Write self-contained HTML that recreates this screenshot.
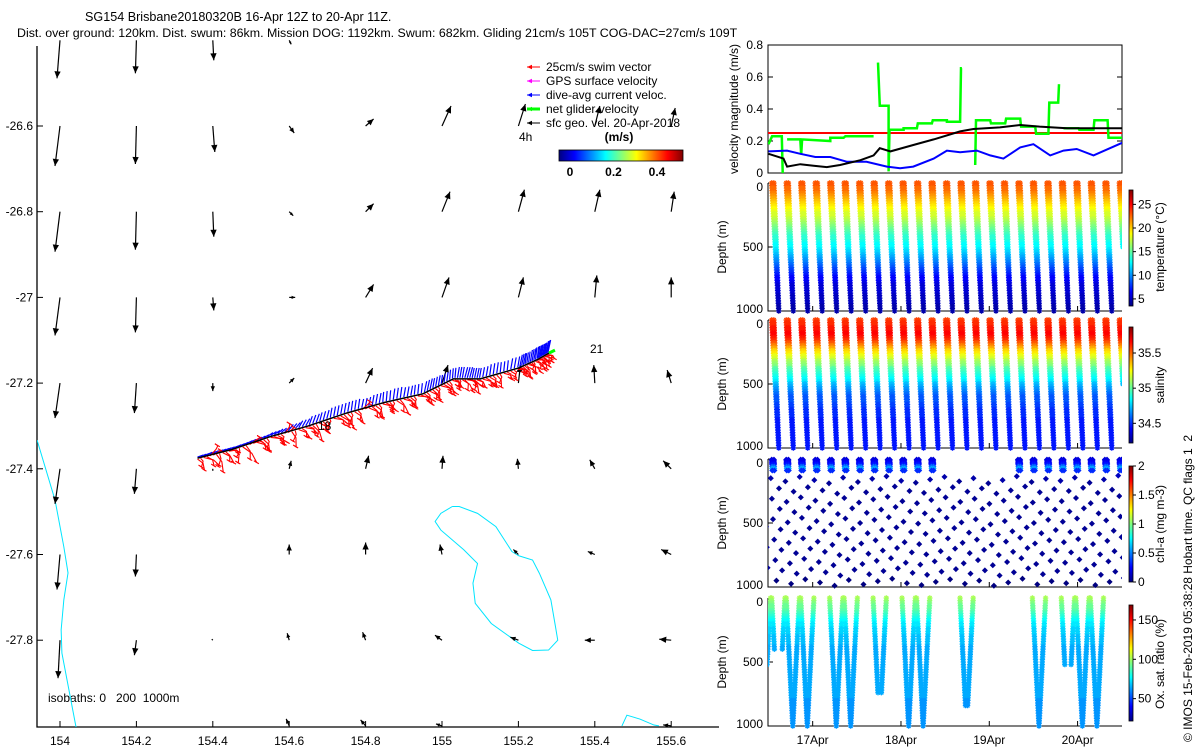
<!DOCTYPE html>
<html><head><meta charset="utf-8"><style>
html,body{margin:0;padding:0;background:#fff;}
svg{display:block;font-family:"Liberation Sans",sans-serif;}
text{fill:#000;}
</style></head><body>
<svg id="c" width="1200" height="750" xmlns="http://www.w3.org/2000/svg" font-size="12">
<defs>
<linearGradient id="jetH" x1="0" y1="0" x2="1" y2="0">
<stop offset="0" stop-color="#000080"/><stop offset="0.125" stop-color="#0000ff"/><stop offset="0.375" stop-color="#00ffff"/><stop offset="0.625" stop-color="#ffff00"/><stop offset="0.875" stop-color="#ff0000"/><stop offset="1" stop-color="#800000"/>
</linearGradient>
<linearGradient id="jetV" x1="0" y1="1" x2="0" y2="0">
<stop offset="0" stop-color="#000080"/><stop offset="0.125" stop-color="#0000ff"/><stop offset="0.375" stop-color="#00ffff"/><stop offset="0.625" stop-color="#ffff00"/><stop offset="0.875" stop-color="#ff0000"/><stop offset="1" stop-color="#800000"/>
</linearGradient>
<clipPath id="clipMap"><rect x="37" y="40" width="682" height="687"/></clipPath>
<clipPath id="clipVel"><rect x="768" y="45" width="354" height="128"/></clipPath>
<clipPath id="clipT"><rect x="768" y="178" width="354" height="136"/></clipPath>
<clipPath id="clipS"><rect x="768" y="315" width="354" height="137"/></clipPath>
<clipPath id="clipC"><rect x="768" y="454" width="354" height="137"/></clipPath>
<clipPath id="clipO"><rect x="768" y="593" width="354" height="137"/></clipPath>
</defs>
<text x="85" y="21" font-size="12.6">SG154 Brisbane20180320B 16-Apr 12Z to 20-Apr 11Z.</text>
<text x="17" y="37" font-size="12.4">Dist. over ground: 120km. Dist. swum: 86km. Mission DOG: 1192km. Swum: 682km. Gliding 21cm/s 105T COG-DAC=27cm/s 109T</text>
<text x="48" y="702" xml:space="preserve">isobaths: 0   200  1000m</text>
<text x="519" y="141">4h</text>
<text x="590" y="353">21</text>
<text x="619" y="141" text-anchor="middle" font-weight="bold">(m/s)</text>
<text transform="translate(738,109) rotate(-90)" text-anchor="middle">velocity magnitude (m/s)</text>
<text transform="translate(1164,247) rotate(-90)" text-anchor="middle">temperature (°C)</text>
<text transform="translate(1164,385) rotate(-90)" text-anchor="middle">salinity</text>
<text transform="translate(1164,524) rotate(-90)" text-anchor="middle">chl-a (mg m-3)</text>
<text transform="translate(1164,664) rotate(-90)" text-anchor="middle">Ox. sat. ratio (%)</text>
<text transform="translate(1192,742) rotate(-90)" xml:space="preserve">© IMOS 15-Feb-2019 05:38:28 Hobart time. QC flags 1  2</text>
</svg>
<script>
// ---------- data ----------
const lonTicks=[154,154.2,154.4,154.6,154.8,155,155.2,155.4,155.6];
const latTicks=[-26.6,-26.8,-27,-27.2,-27.4,-27.6,-27.8];
const gridLats=[-26.4,-26.6,-26.8,-27,-27.2,-27.4,-27.6,-27.8,-28.0];
const gridLons=[154,154.2,154.4,154.6,154.8,155,155.2,155.4,155.6];
const geoU=[[-3,-1,1,2,0,0,0,0,0],[-5,-1,2,5,8,9,7,5,4],[-5,-1,1,4,8,8,6,5,3],[-5,-1,1,6,8,7,5,2,0],[-5,-2,0,5,7,6,2,-1,-4],[-5,-2,0,2,3,1,-1,-5,-8],[-3,-1,0,0,0,-2,-5,-7,-10],[-2,-2,-1,-2,-3,-7,-8,-10,-12],[0,0,0,-3,-5,-6,0,0,-8]];
const geoV=[[-38,-33,-20,-4,0,0,0,0,0],[-40,-38,-26,-7,7,20,22,20,18],[-40,-38,-25,-4,8,20,22,22,20],[-38,-35,-13,0,13,20,20,22,20],[-35,-30,-8,5,15,18,18,18,13],[-35,-25,-2,8,13,13,10,9,8],[-35,-22,0,10,12,10,5,3,5],[-38,-15,1,7,8,5,3,0,1],[0,0,0,7,6,2,0,0,1]];
const trackLon=[154.36,154.45,154.55,154.65,154.75,154.85,154.95,155.03,155.1,155.2,155.25,155.28];
const trackLat=[-27.375,-27.355,-27.325,-27.30,-27.27,-27.245,-27.225,-27.19,-27.19,-27.165,-27.145,-27.13];
const swimBrg=[150,120,40,160,135,100,170,140,60,125,155,110,145,30,165,130,120,150,140,175,115,135,160,145,50,130,150,120,165,140,125,155,110,145,135,160,120,150,130,170,140,115,155,135,125,145,160,130,150,120,140,155,125,165,135,110,150,145,130,120];
const swimLen=[14,18,12,20,16,10,15,22,12,16,14,18,12,10,17,15,13,19,14,12,16,20,13,15,11,18,14,16,12,19,15,13,17,14,16,12,18,15,13,11,17,14,16,12,15,13,14,12,11,10,15,13,16,12,14,11,13,12,10,9];
const dacBrg=[70,65,70,68,66,64,60,55,50,40,30,20,15,10,10,8,12,10,5,8,10,6,12,10,8,5,10,15,12,10,8,6,10,12,8,10,6,8,10,12];
const dacLen=[6,6,7,6,6,7,6,7,7,8,8,9,9,10,10,10,9,10,10,11,10,10,11,10,9,10,11,11,10,10,11,10,11,12,11,12,12,12,12,13];
const iso1Lon=[153.94,153.987,154.010,154.021,154.010,154.003,154.005,154.042];
const iso1Lat=[-27.333,-27.473,-27.582,-27.643,-27.706,-27.776,-27.830,-28.003];
const iso2Lon=[155.027,155.045,155.093,155.141,155.183,155.201,155.237,155.255,155.285,155.297,155.303,155.279,155.237,155.201,155.129,155.087,155.081,155.093,155.057,154.997,154.982,154.997,155.027];
const iso2Lat=[-27.488,-27.488,-27.504,-27.535,-27.593,-27.603,-27.613,-27.644,-27.706,-27.768,-27.800,-27.823,-27.824,-27.807,-27.761,-27.714,-27.667,-27.621,-27.589,-27.543,-27.523,-27.504,-27.488];
const iso3Lon=[155.471,155.484,155.518,155.555,155.568];
const iso3Lat=[-28.0,-27.975,-27.984,-27.998,-28.0];
// velocity panel
const velTicks=[0,0.2,0.4,0.6,0.8];
const dayTicks=[17,18,19,20];
const dayLabels=['17Apr','18Apr','19Apr','20Apr'];
const dacT=[16.50,16.71,16.86,17.03,17.20,17.39,17.61,17.84,17.99,18.14,18.37,18.52,18.67,18.86,19.01,19.16,19.35,19.50,19.69,19.84,19.99,20.18,20.51];
const dacV=[0.135,0.14,0.12,0.10,0.10,0.07,0.07,0.04,0.03,0.04,0.09,0.14,0.13,0.14,0.11,0.09,0.16,0.18,0.11,0.14,0.15,0.11,0.19];
const cogT=[16.50,16.67,16.71,16.86,17.01,17.16,17.31,17.54,17.69,17.76,17.88,18.14,18.37,18.67,18.82,19.12,19.35,19.57,19.88,20.51];
const cogV=[0.12,0.09,0.04,0.055,0.045,0.037,0.05,0.08,0.11,0.155,0.135,0.175,0.21,0.26,0.275,0.285,0.30,0.29,0.28,0.28];
const netT=[16.50,16.54,16.65,16.66,null,16.71,16.86,16.87,16.88,17.20,17.20,17.35,17.37,17.69,null,17.74,17.76,17.86,17.86,17.87,18.03,18.03,18.18,18.19,18.35,18.36,18.52,18.52,18.67,18.68,18.69,null,18.84,18.85,19.01,19.02,19.18,19.19,19.35,19.36,19.52,19.53,19.67,19.68,19.78,19.79,null,19.84,20.01,20.02,20.18,20.19,20.34,20.35,20.51];
const netV=[0.18,0.23,0.23,0,null,0.21,0.21,0.115,0.21,0.20,0.22,0.22,0.23,0.23,null,0.69,0.42,0.42,0.01,0.27,0.27,0.28,0.28,0.31,0.31,0.33,0.33,0.32,0.32,0.655,0.655,null,0.05,0.33,0.33,0.31,0.31,0.34,0.34,0.29,0.29,0.245,0.245,0.44,0.44,0.555,null,0.28,0.28,0.27,0.27,0.33,0.33,0.22,0.22];
const swimTarget=[0.25];
// dive profiles
const diveT=[16.372,16.536,16.700,16.864,17.028,17.192,17.356,17.520,17.684,17.848,18.012,18.176,18.340,18.504,18.668,18.832,18.996,19.160,19.324,19.488,19.652,19.816,19.980,20.144,20.308,20.472];
const diveMax=[1000,1000,1000,1000,1000,1000,1000,1000,1000,1000,1000,1000,1000,1000,1000,1000,1000,1000,1000,1000,1000,1000,1000,1000,1000,500];
const profDepth=[0,50,100,150,200,250,300,350,400,500,600,700,800,900,1000];
const profTemp=[23,22.5,21.3,20.2,19,17.8,16.6,15.4,14.3,12.5,10,7.5,5.8,5,4.6];
const profSal=[35.55,35.62,35.65,35.6,35.45,35.3,35.18,35.05,34.95,34.75,34.58,34.5,34.47,34.46,34.46];
const oxDepth=[0,50,100,150,200,300,400,600,800,1000];
const oxVal=[100,95,88,80,75,68,65,64,63,62];
const oxMax=[520,400,1000,1000,0,1000,1000,0,750,0,1000,1000,0,0,850,0,0,0,0,1000,0,530,1000,1000,0,0];
const chlShallowDepth=[5,15,25,35,45,60,75,90];
const chlDeepDepth=[130,210,290,370,450,530,610,690,770,850,930];
const chlShift=[0,20,45,10,35,60,15,50,25,5,40,55,30,10,45,20,60,35,5,50,25,40,15,55,30,0];
const chlDepth=[0,40,60,75,90,120,200,1000];
const chlVal=[0.15,0.25,0.45,0.6,0.35,0.12,0.03,0.02];
const chlSurface=[1,1,1,1,1,1,1,1,1,1,1,1,1,0,0,0,0,0,1,1,1,1,1,1,1,1];
const tempRange=[3.5,28.04], salRange=[34.22,35.87], chlRange=[0,2], oxRange=[21.6,169];
const tempTicks=[5,10,15,20,25], salTicks=[34.5,35,35.5], chlTicks=[0,0.5,1,1.5,2], oxTicks=[50,100,150];
const depthTicks=[0,500,1000];
const legendTicks=[0,0.2,0.4];

// ---------- helpers ----------
const NS='http://www.w3.org/2000/svg';
const svg=document.getElementById('c');
function el(tag,attrs,parent){const e=document.createElementNS(NS,tag);for(const k in attrs)e.setAttribute(k,attrs[k]);(parent||svg).appendChild(e);return e;}
const mx=lon=>60+(lon-154)*382;
const my=lat=>126+(-26.6-lat)*428.5;
const tx=t=>768+(t-16.494)*88.3;
const vy=v=>173-v/0.8*128;
function jet(v){v=Math.max(0,Math.min(1,v));const c=x=>Math.round(255*Math.max(0,Math.min(1,x)));return `rgb(${c(1.5-Math.abs(4*v-3))},${c(1.5-Math.abs(4*v-2))},${c(1.5-Math.abs(4*v-1))})`;}
function interp(xs,ys,x){if(x<=xs[0])return ys[0];for(let i=1;i<xs.length;i++){if(x<=xs[i]){const f=(x-xs[i-1])/(xs[i]-xs[i-1]);return ys[i-1]+f*(ys[i]-ys[i-1]);}}return ys[ys.length-1];}
function txt(x,y,s,anchor,parent){const e=el('text',{x:x,y:y,'text-anchor':anchor||'start'},parent);e.textContent=s;return e;}

// ---------- map ----------
const mapG=el('g',{});


const mapAxes=el('path',{d:'M37 46V727H719',fill:'none',stroke:'#000','stroke-width':1.3},mapG);


lonTicks.forEach(l=>{
  const tk=el('line',{x1:mx(l),x2:mx(l),y1:727,y2:721,stroke:'#000'},mapG);
  
  
  const lb=txt(mx(l),745,String(l),'middle',mapG);
  
  
});
latTicks.forEach(l=>{
  const tk=el('line',{x1:37,x2:43,y1:my(l),y2:my(l),stroke:'#000'},mapG);
  
  
  const lb=txt(33,my(l)+4,String(l),'end',mapG);
  
  
});
const mapC=el('g',{'clip-path':'url(#clipMap)'},mapG);
[[iso1Lon,iso1Lat],[iso2Lon,iso2Lat],[iso3Lon,iso3Lat]].forEach(([lo,la])=>{
  const p=el('polyline',{points:lo.map((v,i)=>mx(v)+','+my(la[i])).join(' '),fill:'none',stroke:'#00e5ff','stroke-width':1},mapC);
  
  
});
function arrow(x,y,dx,dy,color,w,parent,head){
  const L=Math.hypot(dx,dy);if(L<0.5)return null;
  const g=el('g',{},parent);
  el('line',{x1:x,y1:y,x2:x+dx,y2:y+dy,stroke:color,'stroke-width':w},g);
  const hl=Math.min(head,L*0.6),ux=dx/L,uy=dy/L,hw=hl*0.45;
  const bx=x+dx-ux*hl,by=y+dy-uy*hl;
  el('polygon',{points:`${x+dx},${y+dy} ${bx-uy*hw},${by+ux*hw} ${bx+uy*hw},${by-ux*hw}`,fill:color},g);
  return g;
}
gridLats.forEach((la,r)=>gridLons.forEach((lo,c)=>{
  const a=arrow(mx(lo),my(la),geoU[r][c],-geoV[r][c],'#000',1.2,mapC,7);
  if(a){
  }
}));
function trackPos(f){f=Math.max(0,Math.min(1,f));const n=trackLon.length-1;const s=f*n;const i=Math.min(n-1,Math.floor(s));const u=s-i;return [mx(trackLon[i]+(trackLon[i+1]-trackLon[i])*u),my(trackLat[i]+(trackLat[i+1]-trackLat[i])*u)];}
const dacG=el('g',{stroke:'#0000ff','stroke-width':1.2},mapC);


dacBrg.forEach((b,i)=>{
  for(let k=0;k<3;k++){
    const [x,y]=trackPos((i+k/3)/(dacBrg.length));const r=b*Math.PI/180,L=dacLen[i];
    el('line',{x1:x,y1:y-1,x2:x+Math.sin(r)*L,y2:y-1-Math.cos(r)*L},dacG);
  }
});
const swimG=el('g',{stroke:'#ff0000','stroke-width':1.1,fill:'none'},mapC);


swimBrg.forEach((b,i)=>{
  for(let k=0;k<2;k++){
    const [x,y]=trackPos((i+k*0.5)/(swimBrg.length));const r=(b+k*25)*Math.PI/180,L=swimLen[i]*(k?0.7:1);
    const x2=x+Math.sin(r)*L,y2=y-Math.cos(r)*L;
    el('polyline',{points:`${x},${y+1} ${(x+x2)/2+2},${(y+y2)/2-1} ${x2},${y2} ${x2-3},${y2-2} ${x2+2},${y2+1}`},swimG);
  }
});
const trk=el('polyline',{points:trackLon.map((v,i)=>mx(v)+','+my(trackLat[i])).join(' '),fill:'none',stroke:'#000','stroke-width':1.5},mapC);


const netEnd=el('line',{x1:mx(trackLon[trackLon.length-1]),y1:my(trackLat[trackLat.length-1]),x2:mx(trackLon[trackLon.length-1])+6,y2:my(trackLat[trackLat.length-1])-3,stroke:'#00ff00','stroke-width':3},mapC);


const l18=txt(318,430,'18','start',mapC);



// legend
const legItems=[['#ff0000','25cm/s swim vector',1],['#ff00ff','GPS surface velocity',1],['#0000ff','dive-avg current veloc.',1],['#00ff00','net glider velocity',3],['#000','sfc geo. vel. 20-Apr-2018',1]];
legItems.forEach((it,i)=>{
  const y=67+i*14;
  const g=el('g',{});
  
  
  arrow(540,y,-13,0,it[0],it[2],g,5);
  txt(546,y+4,it[1],'start',g);
});
const lcb=el('rect',{x:559,y:150,width:124,height:11,fill:'url(#jetH)',stroke:'#000','stroke-width':0.8});


legendTicks.forEach(v=>{
  const x=570+v/0.2*43.5;
  const lb=txt(x,176,String(v),'middle');lb.setAttribute('font-weight','bold');
  
  
});

// ---------- velocity panel ----------
const velG=el('g',{});


el('rect',{x:768,y:45,width:354,height:128,fill:'none',stroke:'#000'},velG);
velTicks.forEach(v=>{
  el('line',{x1:768,x2:773,y1:vy(v),y2:vy(v),stroke:'#000'},velG);
  el('line',{x1:1117,x2:1122,y1:vy(v),y2:vy(v),stroke:'#000'},velG);
  const lb=txt(763,vy(v)+4,String(v),'end',velG);
  
  
});
const velC=el('g',{'clip-path':'url(#clipVel)'},velG);
const redL=el('line',{x1:768,x2:1122,y1:vy(swimTarget[0]),y2:vy(swimTarget[0]),stroke:'#ff0000','stroke-width':2},velC);


function series(ts,vs){let d='',pen=false;ts.forEach((t,i)=>{if(t===null){pen=false;return;}d+=(pen?'L':'M')+tx(t).toFixed(1)+' '+vy(vs[i]).toFixed(1);pen=true;});return d;}
const gL=el('path',{d:series(netT,netV),fill:'none',stroke:'#00ff00','stroke-width':2.5},velC);


const bL=el('path',{d:series(dacT,dacV),fill:'none',stroke:'#0000ff','stroke-width':2},velC);


const kL=el('path',{d:series(cogT,cogV),fill:'none',stroke:'#000','stroke-width':2},velC);



// ---------- depth panels ----------
function star(x,y){const s=2.7,q=1.9;return `M${(x-s).toFixed(1)} ${y.toFixed(1)}h${2*s}M${x.toFixed(1)} ${(y-s).toFixed(1)}v${2*s}M${(x-q).toFixed(1)} ${(y-q).toFixed(1)}l${2*q} ${2*q}M${(x-q).toFixed(1)} ${(y+q).toFixed(1)}l${2*q} ${-2*q}`;}
function diamond(x,y){const s=2.6;return `M${x.toFixed(1)} ${(y-s).toFixed(1)}l${s} ${s}l${-s} ${s}l${-s} ${-s}Z`;}
// narrow slanted dive: descent t0 -> t0+0.08, ascent back to t0+0.025
function legTimes(k,d){const t0=diveT[k],tb=t0+0.08,te=t0+0.025;return [t0+(tb-t0)*d/1000,te+(tb-te)*d/1000];}
// oxygen drawn as wider V
function oxLegTimes(k,d){const t0=diveT[k],tb=t0+0.075,te=t0+0.15;return [t0+(tb-t0)*d/1000,te+(tb-te)*d/1000];}
function panel(name,top,clip,cbTicks,cbRange,cbName){
  const g=el('g',{});
  
  
  el('path',{d:`M768 ${top}V${top+128}H1122`,fill:'none',stroke:'#000'},g);
  depthTicks.forEach(d=>{
    const y=top+d/1000*128;
    el('line',{x1:768,x2:773,y1:y,y2:y,stroke:'#000'},g);
    const lb=txt(763,y+(d===0?8:d===1000?2:4),String(d),'end',g);
    
    
  });
  dayTicks.forEach(t=>el('line',{x1:tx(t),x2:tx(t),y1:top+128,y2:top+123,stroke:'#000'},g));
  const yl=el('text',{transform:`translate(726,${top+64}) rotate(-90)`,'text-anchor':'middle'},g);yl.textContent='Depth (m)';
  
  
  const cbTop=top+7,cbH=116;
  const cb=el('rect',{x:1129,y:cbTop,width:4,height:cbH,fill:'url(#jetV)',stroke:'#000','stroke-width':0.8},g);
  
  
  cbTicks.forEach(v=>{
    const y=cbTop+cbH-(v-cbRange[0])/(cbRange[1]-cbRange[0])*cbH;
    el('line',{x1:1133,x2:1136,y1:y,y2:y,stroke:'#000'},g);
    const lb=txt(1138,y+4,String(v),'start',g);
    
    
  });
  return el('g',{'clip-path':`url(#${clip})`},g);
}
function drawBuckets(parent,buckets,filled,name){
  Object.keys(buckets).forEach(col=>{
    const p=el('path',{d:buckets[col],fill:filled?col:'none',stroke:col,'stroke-width':filled?0.6:1.3},parent);
    
    
  });
}
function profilePanel(top,clip,ticks,range,cbName,panelName,valueAt,maxOf,markName,legFn){
  const c=panel(panelName,top,clip,ticks,range,cbName);
  const b={};
  diveT.forEach((t0,k)=>{
    const mxD=maxOf(k);if(!mxD)return;
    for(let d=0;d<=mxD;d+=20){
      const col=jet(Math.round((valueAt(d)-range[0])/(range[1]-range[0])*48)/48);
      legFn(k,d).forEach(t=>{b[col]=(b[col]||'')+star(tx(t),top+d/1000*128);});
    }
  });
  drawBuckets(c,b,false,markName);
}
profilePanel(183,'clipT',tempTicks,tempRange,'temperature-colorbar','temperature-panel',d=>interp(profDepth,profTemp,d),k=>diveMax[k],'temperature-markers',legTimes);
profilePanel(320,'clipS',salTicks,salRange,'salinity-colorbar','salinity-panel',d=>interp(profDepth,profSal,d),k=>diveMax[k],'salinity-markers',legTimes);
// chl
(function(){
  const top=459;
  const c=panel('chlorophyll-panel',top,'clipC',chlTicks,chlRange,'chl-colorbar');
  const b={};
  const colOf=d=>jet(Math.round((interp(chlDepth,chlVal,d)-chlRange[0])/(chlRange[1]-chlRange[0])*48)/48);
  diveT.forEach((t0,k)=>{
    if(chlSurface[k]) chlShallowDepth.forEach(d=>{
      const col=colOf(d);
      legTimes(k,d).forEach(t=>{b[col]=(b[col]||'')+diamond(tx(t),top+d/1000*128);});
    });
    chlDeepDepth.forEach((d0,j)=>{
      const d=Math.min(1000,d0+chlShift[k]);const col=colOf(d);
      const t=legTimes(k,d)[j%2];
      b[col]=(b[col]||'')+diamond(tx(t)+(j%2?4:-2),top+d/1000*128);
    });
  });
  drawBuckets(c,b,true,'chl-markers');
})();
// oxygen
profilePanel(598,'clipO',oxTicks,oxRange,'oxygen-colorbar','oxygen-panel',d=>interp(oxDepth,oxVal,d),k=>oxMax[k],'oxygen-markers',oxLegTimes);
dayTicks.forEach((t,i)=>{
  const lb=txt(tx(t),744,dayLabels[i],'middle');
  
  
});
</script>
</body></html>
